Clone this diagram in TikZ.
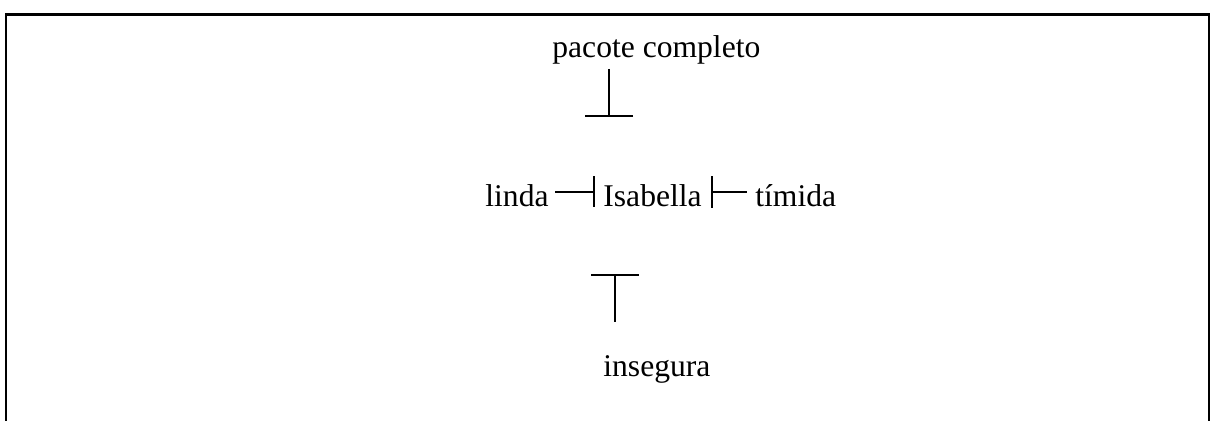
\documentclass[tikz,border=0pt]{standalone}
\usepackage{fontspec}
\setmainfont{Liberation Serif}
\usetikzlibrary{arrows.meta}
\begin{document}
\begin{tikzpicture}[x=0.5pt,y=-0.5pt,
  lbl/.style={inner sep=0pt, anchor=base west, font=\fontsize{15.8}{19}\selectfont},
  tack/.style={line width=0.8pt}]
\useasboundingbox (0,0) rectangle (1211,421);
% frame
\coordinate (ftl) at (6.2,14.7);
\coordinate (ftr) at (1208.5,14.7);
\coordinate (fbl) at (6.2,421);
\coordinate (fbr) at (1208.5,421);
\draw[line width=1.4pt] ([xshift=-0.6pt]ftl) -- ([xshift=0.8pt]ftr);
\draw[line width=1.2pt] (ftl) -- (fbl);
\draw[line width=1.0pt] (ftr) -- (fbr);
% labels
\node[lbl] (pacote) at (552,58) {pacote completo};
\node[lbl] (linda) at (485,207) {linda};
\node[lbl] (isa) at (603,207) {Isabella};
\node[lbl] (timida) at (755,207) {tímida};
\node[lbl] (inseg) at (603,377) {insegura};
% tacks
\coordinate (ua) at (609,69);
\coordinate (ub) at (609,117);
\draw[tack,-{Bar[width=24pt]}] (ua) -- (ub);
\coordinate (la) at (555,192);
\coordinate (lb) at (595,192);
\draw[tack,-{Bar[width=15.5pt]}] (la) -- (lb);
\coordinate (ra) at (711,192);
\coordinate (rb) at (747,192);
\draw[tack,{Bar[width=16pt]}-] (ra) -- (rb);
\coordinate (da) at (615,322);
\coordinate (db) at (615,274);
\draw[tack,-{Bar[width=24pt]}] (da) -- (db);
\end{tikzpicture}
\end{document}
